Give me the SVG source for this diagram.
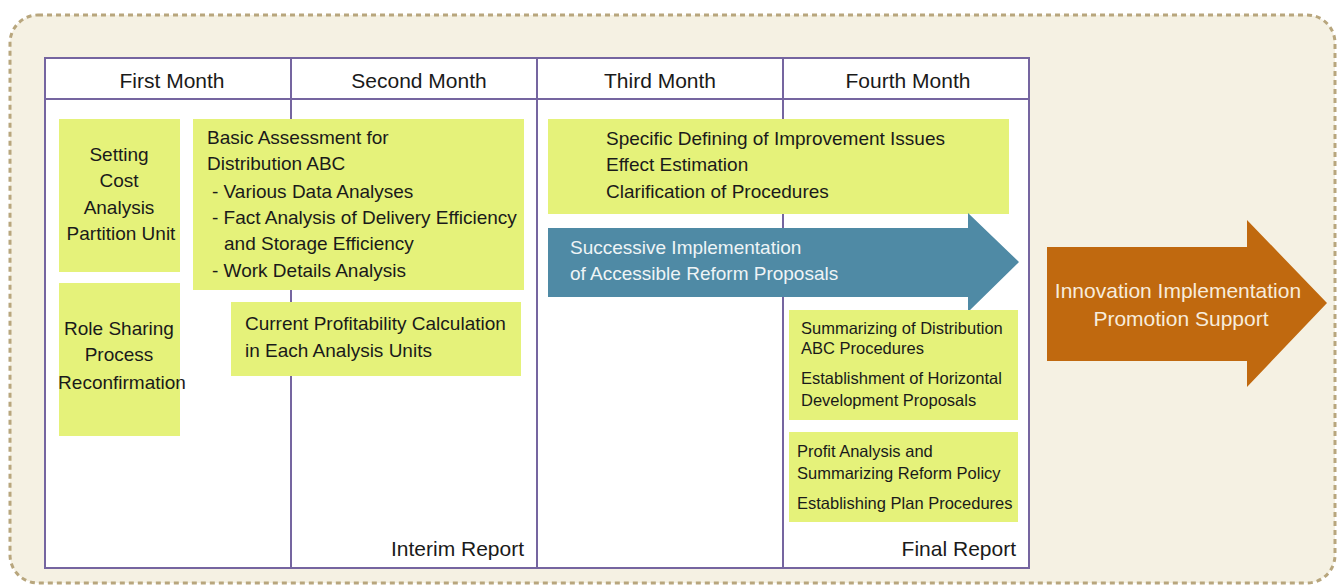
<svg xmlns="http://www.w3.org/2000/svg" width="1341" height="586" viewBox="0 0 1341 586">
<style>
.t{font-family:"Liberation Sans",Arial,sans-serif;fill:#1a1a1a}
.h{font-size:21px;text-anchor:middle}
.b{font-size:19px}
.s{font-size:16.5px}
.c{text-anchor:middle}
.box{fill:#e5f27a}
.grid{stroke:#7565a0;stroke-width:2;fill:none}
</style>
<rect x="10" y="15" width="1325" height="568" rx="28" fill="#f5f1e3" stroke="#b8a67d" stroke-width="3" stroke-dasharray="5 4"/>
<g id="table">
<rect x="45" y="58" width="984" height="510" fill="#ffffff"/>
<rect x="45" y="58" width="984" height="510" class="grid"/>
<line x1="45" y1="99" x2="1029" y2="99" class="grid"/>
<line x1="291" y1="58" x2="291" y2="568" class="grid"/>
<line x1="537" y1="58" x2="537" y2="568" class="grid"/>
<line x1="783" y1="58" x2="783" y2="568" class="grid"/>
<text class="t h" x="172" y="88">First Month</text>
<text class="t h" x="419" y="88">Second Month</text>
<text class="t h" x="660" y="88">Third Month</text>
<text class="t h" x="908" y="88">Fourth Month</text>
<text class="t" font-size="21" x="524" y="556" text-anchor="end">Interim Report</text>
<text class="t" font-size="21" x="1016" y="556" text-anchor="end">Final Report</text>
</g>
<g id="n1">
<rect class="box" x="59" y="119" width="121" height="153"/>
<text class="t b c" x="119"><tspan x="119" y="161">Setting</tspan><tspan x="119" y="187">Cost</tspan><tspan x="119" y="214">Analysis</tspan><tspan x="121" y="240">Partition Unit</tspan></text>
</g>
<g id="n2">
<rect class="box" x="59" y="283" width="121" height="153"/>
<text class="t b c"><tspan x="119" y="335">Role Sharing</tspan><tspan x="119" y="361">Process</tspan><tspan x="122" y="389">Reconfirmation</tspan></text>
</g>
<g id="n3">
<rect class="box" x="193" y="119" width="331" height="171"/>
<text class="t b"><tspan x="207" y="144">Basic Assessment for</tspan><tspan x="207" y="170">Distribution ABC</tspan><tspan x="212" y="198">- Various Data Analyses</tspan><tspan x="212" y="224">- Fact Analysis of Delivery Efficiency</tspan><tspan x="224" y="250">and Storage Efficiency</tspan><tspan x="212" y="277">- Work Details Analysis</tspan></text>
</g>
<g id="n4">
<rect class="box" x="231" y="302" width="290" height="74"/>
<text class="t b"><tspan x="245" y="330">Current Profitability Calculation</tspan><tspan x="245" y="357">in Each Analysis Units</tspan></text>
</g>
<g id="n5">
<rect class="box" x="548" y="119" width="461" height="95"/>
<text class="t b"><tspan x="606" y="145">Specific Defining of Improvement Issues</tspan><tspan x="606" y="171">Effect Estimation</tspan><tspan x="606" y="198">Clarification of Procedures</tspan></text>
</g>
<g id="n6">
<polygon points="548,228 968,228 968,213 1019,262 968,312 968,297 548,297" fill="#4f8aa5"/>
<text class="t b" style="fill:#eef4f6"><tspan x="570" y="254">Successive Implementation</tspan><tspan x="570" y="280">of Accessible Reform Proposals</tspan></text>
</g>
<g id="n7">
<rect class="box" x="789" y="310" width="229" height="110"/>
<text class="t s"><tspan x="801" y="334">Summarizing of Distribution</tspan><tspan x="801" y="354">ABC Procedures</tspan><tspan x="801" y="384">Establishment of Horizontal</tspan><tspan x="801" y="406">Development Proposals</tspan></text>
</g>
<g id="n8">
<rect class="box" x="789" y="432" width="229" height="90"/>
<text class="t s"><tspan x="797" y="457">Profit Analysis and</tspan><tspan x="797" y="479">Summarizing Reform Policy</tspan><tspan x="797" y="509">Establishing Plan Procedures</tspan></text>
</g>
<g id="n9">
<polygon points="1047,247 1247,247 1247,220 1327,303 1247,387 1247,361 1047,361" fill="#c0690f"/>
<text class="t" font-size="21" text-anchor="middle" style="fill:#f7ecdc"><tspan x="1178" y="298">Innovation Implementation</tspan><tspan x="1181" y="326">Promotion Support</tspan></text>
</g>
<g id="connectors"></g>
</svg>
